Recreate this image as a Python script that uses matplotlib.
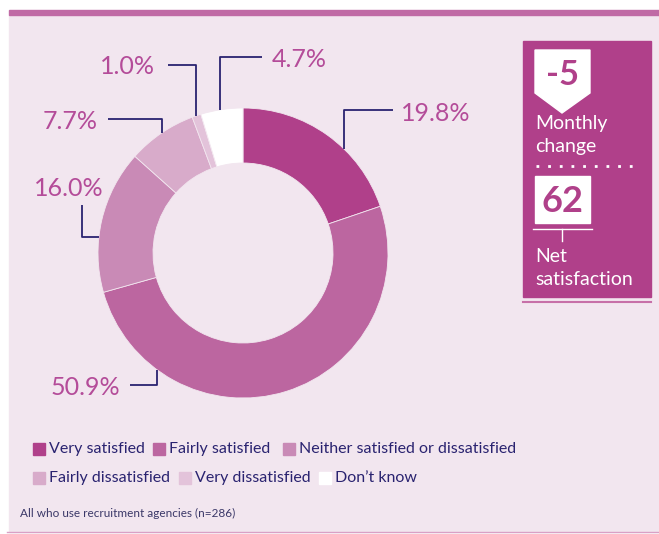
# donut chart: satisfaction with recruitment agencies
import numpy as np
import matplotlib.pyplot as plt
from matplotlib.patches import Rectangle, Polygon

plt.rcParams['font.family'] = ['Lato', 'DejaVu Sans']

categories = ["Very satisfied", "Fairly satisfied", "Neither satisfied or dissatisfied",
              "Fairly dissatisfied", "Very dissatisfied", "Don\u2019t know"]
shares = [19.8, 50.9, 16.0, 7.7, 1.0, 4.7]
pct_labels = ["19.8%", "50.9%", "16.0%", "7.7%", "1.0%", "4.7%"]
monthly_change = "-5"
net_satisfaction = "62"
footnote = "All who use recruitment agencies (n=286)"

colors = ["#B0408A", "#BC66A0", "#C98AB6", "#D8ABCA", "#E3C3DA", "#FFFFFF"]
bg = "#F2E6EF"
box_col = "#B0408A"
pink_txt = "#B44C99"
navy = "#2A2370"

W, H = 659, 534
fig = plt.figure(figsize=(W / 100, H / 100), dpi=100)
ax = fig.add_axes([0, 0, 1, 1])

# panel
ax.add_patch(Rectangle((9, 15), W - 9, 517, color=bg, zorder=0))
ax.add_patch(Rectangle((9, 10), W - 9, 5, color="#C06AA5", zorder=1))
ax.plot([7, W], [532, 532], color="#D9A0C5", lw=1)

# donut (y axis is inverted -> counterclock=True draws clockwise on screen)
cx, cy, r = 243, 253, 145
ax.pie(shares, colors=colors, startangle=-90, counterclock=True, center=(cx, cy),
       radius=r, wedgeprops=dict(width=55, edgecolor=bg, linewidth=0.6))

def edge_y(x, down=False):
    d = np.sqrt(r ** 2 - (x - cx) ** 2)
    return cy + d if down else cy - d

def edge_x(y):
    return cx - np.sqrt(r ** 2 - (y - cy) ** 2)

lk = dict(color=navy, lw=1.3, solid_capstyle="butt")
tk = dict(color=pink_txt, fontsize=18, va="baseline")
# 19.8%
ax.plot([344, 344, 393], [edge_y(344), 110, 110], **lk)
ax.text(401, 121, pct_labels[0], ha="left", **tk)
# 50.9%
ax.plot([157, 157, 130], [edge_y(157, down=True), 385, 385], **lk)
ax.text(120, 395, pct_labels[1], ha="right", **tk)
# 16.0%
ax.plot([edge_x(237), 82, 82], [237, 237, 205], **lk)
ax.text(69, 196, pct_labels[2], ha="center", **tk)
# 7.7%
ax.plot([162, 162, 108], [edge_y(162), 119, 119], **lk)
ax.text(98, 129, pct_labels[3], ha="right", **tk)
# 1.0%
ax.plot([196, 196, 168], [edge_y(196), 65, 65], **lk)
ax.text(155, 74, pct_labels[4], ha="right", **tk)
# 4.7%
ax.plot([220, 220, 262], [edge_y(220), 57, 57], **lk)
ax.text(272, 67, pct_labels[5], ha="left", **tk)

# right info box
ax.add_patch(Rectangle((523, 41), 128, 256, color=box_col, zorder=2))
ax.plot([523, 651], [302, 302], color="#C770A8", lw=1.5)
ax.add_patch(Polygon([(535, 50), (590, 50), (590, 93), (562, 113), (535, 93)],
                     closed=True, color="white", zorder=3))
ax.text(562, 75, monthly_change, ha="center", va="center", color=box_col,
        fontsize=25, fontweight="bold", zorder=4)
bt = dict(color="white", fontsize=14, va="baseline", zorder=4)
ax.text(535, 129, "Monthly", **bt)
ax.text(535, 152, "change", **bt)
ax.plot([536, 634], [166, 166], color="white", lw=2, ls=(0, (1, 3.2)), zorder=4)
ax.add_patch(Rectangle((535, 176), 55, 47, color="white", zorder=3))
ax.text(562, 201, net_satisfaction, ha="center", va="center", color=box_col,
        fontsize=26, fontweight="bold", zorder=4)
ax.plot([533, 592], [229, 229], color="white", lw=1, zorder=4)
ax.plot([562, 562], [229, 241], color="white", lw=1, zorder=4)
ax.text(535, 262, "Net", **bt)
ax.text(535, 285, "satisfaction", **bt)

# legend
leg_x = [33, 153, 283, 33, 179, 319]
leg_y = [449, 449, 449, 478, 478, 478]
for lab, col, lx, ly in zip(categories, colors, leg_x, leg_y):
    ax.add_patch(Rectangle((lx, ly - 6), 12, 12, color=col, zorder=3))
    ax.text(lx + 16, ly, lab, color=navy, fontsize=11.5, va="center")

ax.text(20, 513, footnote, color="#3B3868", fontsize=8.5, va="center")

ax.set_xlim(0, W)
ax.set_ylim(H, 0)
ax.set_aspect("auto")
ax.axis("off")
fig.savefig("out.png", dpi=100, facecolor="white")
